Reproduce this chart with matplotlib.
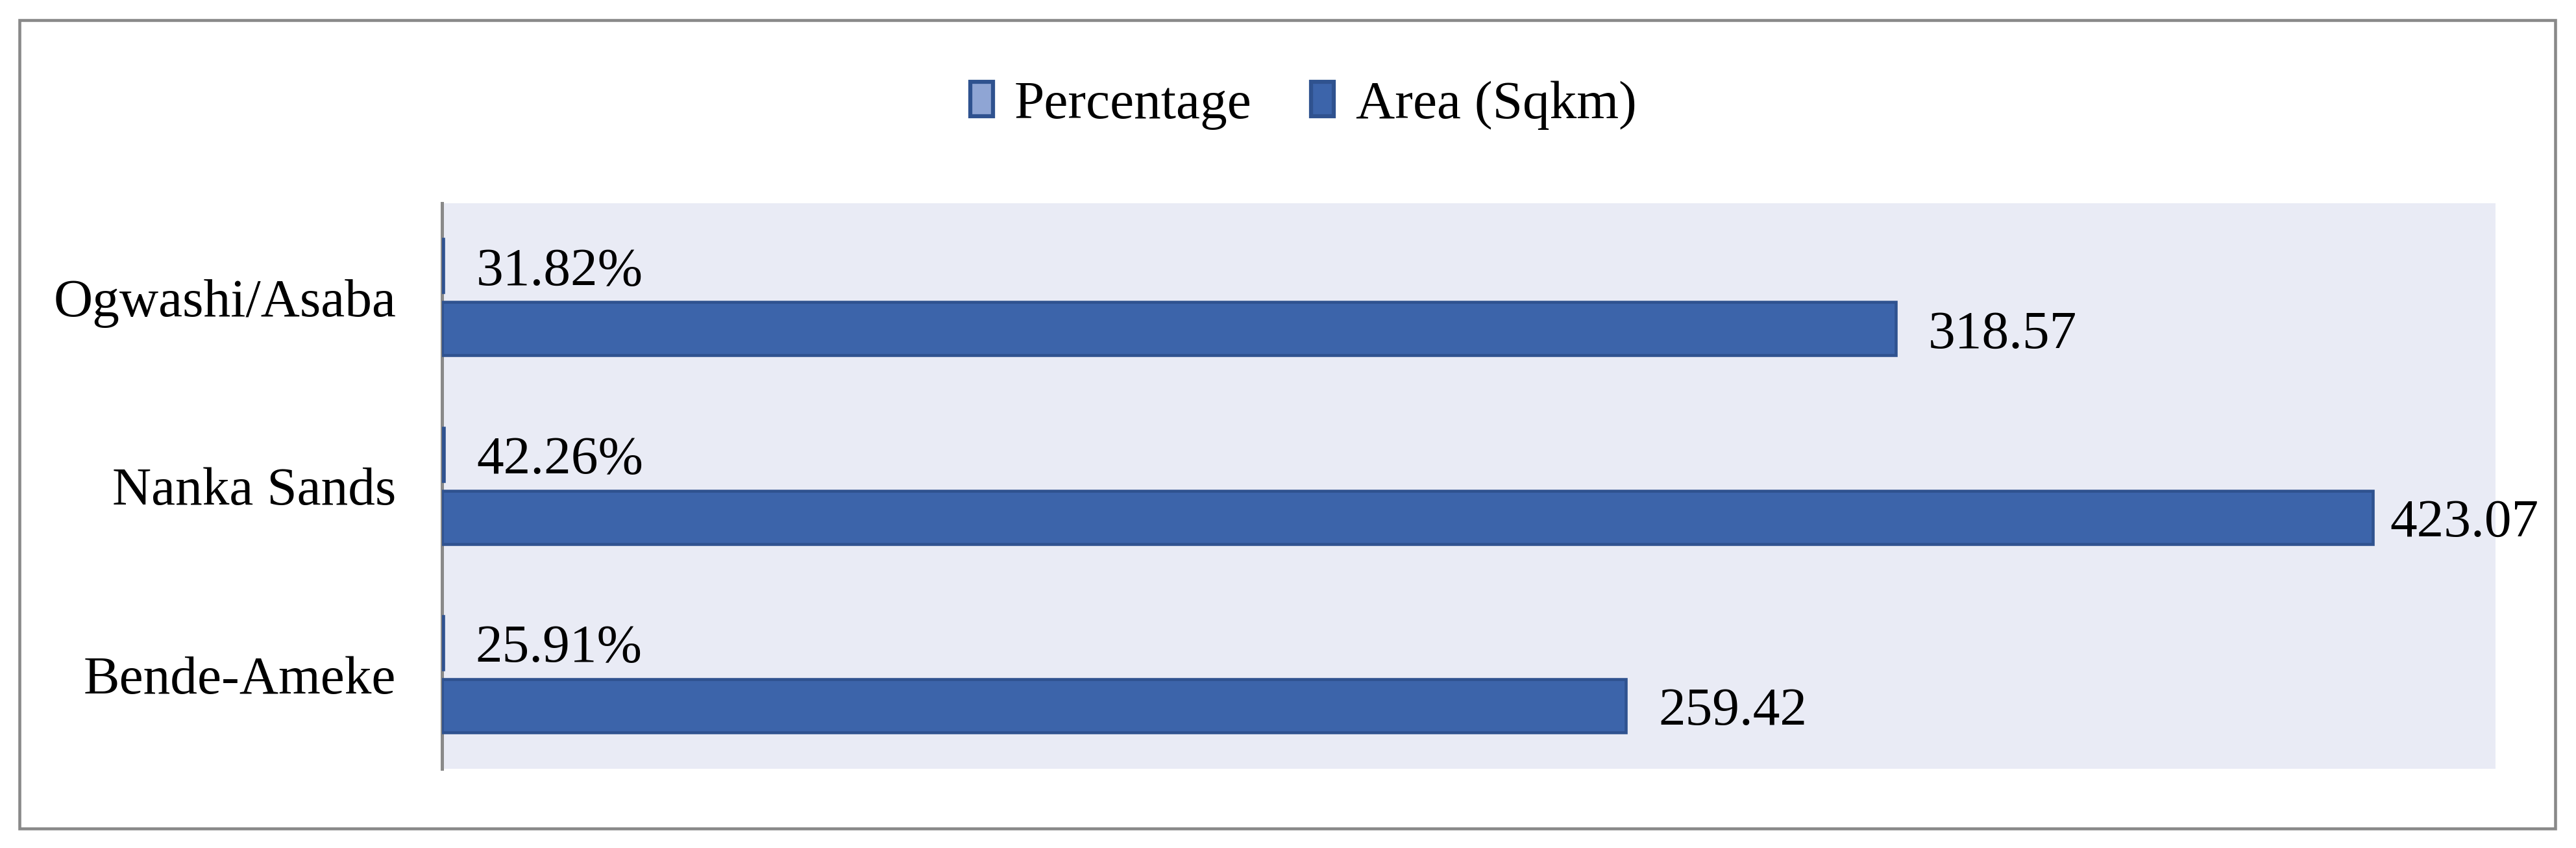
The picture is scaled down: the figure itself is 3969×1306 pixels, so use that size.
import matplotlib
matplotlib.use("Agg")
import matplotlib.pyplot as plt
from matplotlib.patches import Rectangle, Patch

categories = ["Bende-Ameke", "Nanka Sands", "Ogwashi/Asaba"]
percentage = [25.91, 42.26, 31.82]
area_sqkm = [259.42, 423.07, 318.57]
series_names = ["Percentage", "Area (Sqkm)"]

plt.rcParams['font.family'] = ['Liberation Serif', 'DejaVu Serif']
FS = 20

W, H = 3969, 1306
DPI = 300
fig = plt.figure(figsize=(W / DPI + 0.001, H / DPI + 0.001), dpi=DPI)
fig.patch.set_facecolor('white')

ax = fig.add_axes([681 / W, 1 - 1184 / H, (3845 - 681) / W, (1184 - 313) / H])
ax.set_facecolor('#E9EBF5')

edge = '#2F528F'
pct_color = '#8FA5D4'
area_color = '#3C64AA'
bh = 0.2825
off = 0.167

ypos = list(range(len(categories)))
pct_frac = [p / 100 for p in percentage]
ax.barh([y + off for y in ypos], pct_frac, height=bh, color=pct_color,
        edgecolor=edge, linewidth=1.1, zorder=3)
ax.barh([y - off for y in ypos], area_sqkm, height=bh, color=area_color,
        edgecolor=edge, linewidth=1.1, zorder=3)

PAD = 12
for y, p, v in zip(ypos, percentage, pct_frac):
    ax.annotate(f"{p:.2f}%", xy=(v, y + off), xytext=(PAD, 0),
                textcoords='offset points', ha='left', va='center_baseline',
                fontsize=FS, color='black')
area_labels = []
for y, a in zip(ypos, area_sqkm):
    t = ax.annotate(f"{a:.2f}", xy=(a, y - off), xytext=(PAD, 0),
                    textcoords='offset points', ha='left', va='center_baseline',
                    fontsize=FS, color='black', annotation_clip=False)
    area_labels.append(t)

ax.set_xlim(0, 450)
ax.set_ylim(-0.5, len(categories) - 0.5)
ax.set_xticks([])
ax.set_yticks(ypos)
ax.set_yticklabels(categories, fontsize=FS)
for t in ax.get_yticklabels():
    t.set_verticalalignment('center_baseline')
ax.tick_params(axis='y', length=0, pad=17)
for s in ['top', 'right', 'bottom']:
    ax.spines[s].set_visible(False)
ax.spines['left'].set_color('#898989')
ax.spines['left'].set_linewidth(1.2)

handles = [Patch(facecolor=pct_color, edgecolor=edge, linewidth=1.5),
           Patch(facecolor=area_color, edgecolor=edge, linewidth=1.5)]
fig.legend(handles, series_names, loc='center', bbox_to_anchor=(2008 / W, 1 - 162 / H),
           ncol=2, frameon=False, fontsize=FS, handlelength=0.42, handleheight=0.6,
           handletextpad=0.4, columnspacing=1.1)

border = Rectangle((29.5 / W, 1 - 1276 / H), (3936.5 - 29.5) / W, (1276 - 31.5) / H,
                   transform=fig.transFigure, fill=False, edgecolor='#898989',
                   linewidth=1.1, zorder=10)
fig.patches.append(border)

# keep data labels inside the chart frame (as the spreadsheet does)
fig.canvas.draw()
renderer = fig.canvas.get_renderer()
limit_px = 3911
for t in area_labels:
    bb = t.get_window_extent(renderer)
    if bb.x1 > limit_px:
        shift_pt = (bb.x1 - limit_px) * 72 / DPI
        t.xyann = (PAD - shift_pt, 0)

fig.savefig('out.png', dpi=DPI, facecolor='white')
